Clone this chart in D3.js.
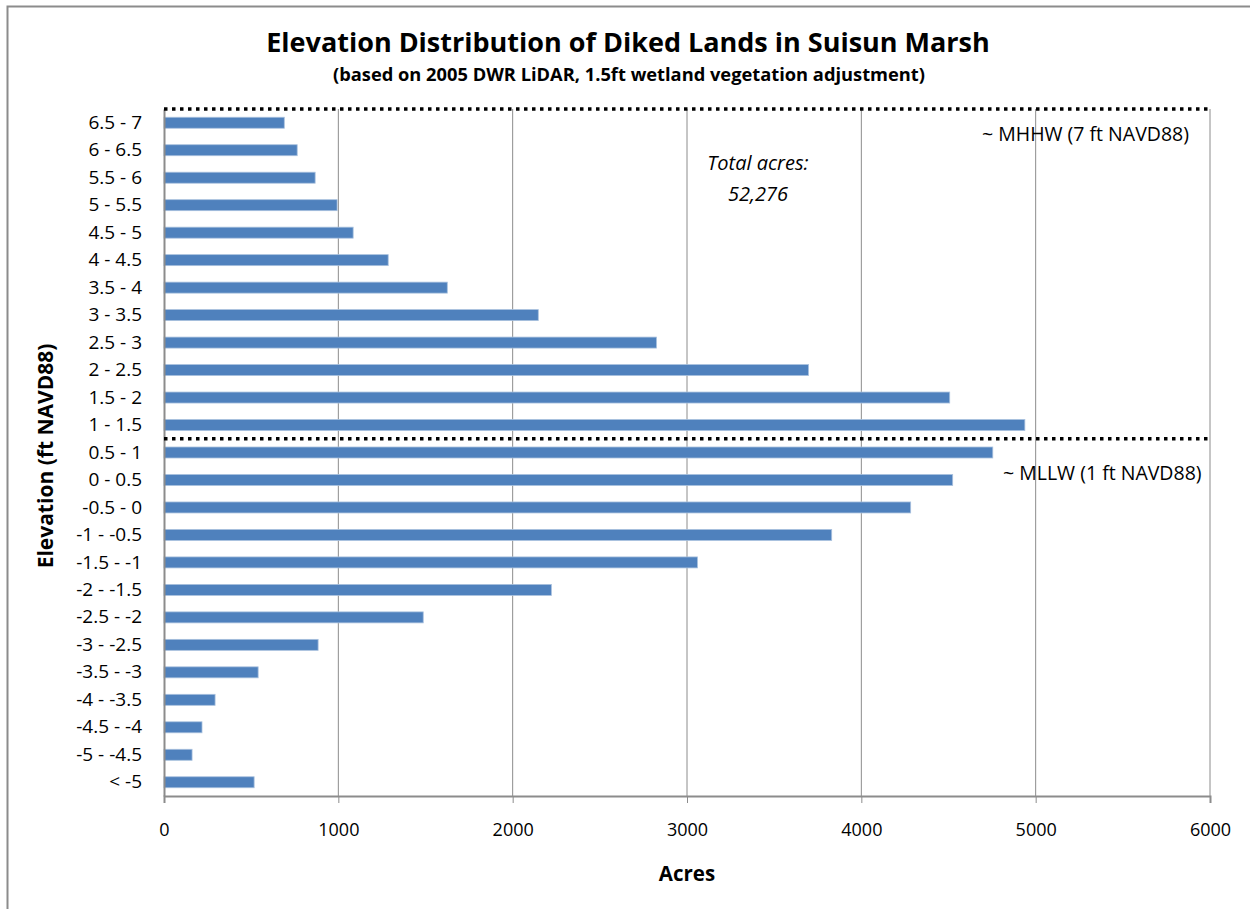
<!DOCTYPE html>
<html>
<head>
<meta charset="utf-8">
<script src="https://cdn.jsdelivr.net/npm/d3@7"></script>
<style>
  body { margin: 0; background: #fff; }
  text { font-family: "Open Sans", "Liberation Sans", sans-serif; fill: #000; }
</style>
</head>
<body>
<div id="chart"></div>
<script>
const categories = ['6.5 - 7', '6 - 6.5', '5.5 - 6', '5 - 5.5', '4.5 - 5', '4 - 4.5', '3.5 - 4', '3 - 3.5',
  '2.5 - 3', '2 - 2.5', '1.5 - 2', '1 - 1.5', '0.5 - 1', '0 - 0.5', '-0.5 - 0', '-1 - -0.5', '-1.5 - -1',
  '-2 - -1.5', '-2.5 - -2', '-3 - -2.5', '-3.5 - -3', '-4 - -3.5', '-4.5 - -4', '-5 - -4.5', '< -5'];
const acres = [690, 764, 867, 993, 1085, 1286, 1625, 2147, 2825, 3697, 4507, 4938, 4754, 4524, 4283,
  3830, 3060, 2222, 1487, 884, 540, 293, 218, 161, 517];
const xTicks = [0, 1000, 2000, 3000, 4000, 5000, 6000];
// reference lines: drawn at the top edge of the given category
const refLines = [
  { above: '6.5 - 7', label: '~ MHHW (7 ft NAVD88)' },
  { above: '0.5 - 1', label: '~ MLLW  (1 ft NAVD88)' }
];
const totalLines = ['Total acres:', '52,276'];

const width = 1250, height = 909;
const margin = { top: 109, right: 40, bottom: 113, left: 164 };

const svg = d3.select('#chart').append('svg')
    .attr('width', width)
    .attr('height', height);

// outer chart border (only top and left visible in the picture)
svg.append('rect')
    .attr('x', 7.5).attr('y', 6.5)
    .attr('width', width).attr('height', height)
    .attr('fill', 'none')
    .attr('stroke', '#8c8c8c')
    .attr('stroke-width', 2);

const x = d3.scaleLinear().domain([0, 6000]).range([margin.left, 1210]);
const y = d3.scaleBand().domain(categories).range([margin.top, height - margin.bottom]).paddingInner(0.6).paddingOuter(0.3);

// gridlines
svg.append('g')
  .selectAll('line')
  .data(xTicks.slice(1))
  .enter()
  .append('line')
    .attr('x1', d => x(d)).attr('x2', d => x(d))
    .attr('y1', margin.top).attr('y2', height - margin.bottom)
    .attr('stroke', '#8c8c8c')
    .attr('stroke-width', 1);

// bars
svg.append('g')
  .selectAll('rect')
  .data(categories)
  .enter()
  .append('rect')
    .attr('x', x(0))
    .attr('y', d => y(d))
    .attr('width', (d, i) => x(acres[i]) - x(0))
    .attr('height', y.bandwidth())
    .attr('fill', '#4f81bd')
    .attr('stroke', '#a9c1de')
    .attr('stroke-width', 0.8);

// x axis
const xAxis = svg.append('g')
    .attr('transform', `translate(0,${height - margin.bottom})`)
    .call(d3.axisBottom(x).tickValues(xTicks).tickSize(7).tickPadding(20).tickFormat(d3.format('d')));
xAxis.select('.domain').attr('stroke', '#8c8c8c').attr('stroke-width', 2);
xAxis.selectAll('.tick line').attr('stroke', '#8c8c8c');
xAxis.selectAll('.tick text').style('font-size', '18px').attr('font-family', null);

// y axis
const yAxis = svg.append('g')
    .attr('transform', `translate(${margin.left},0)`)
    .call(d3.axisLeft(y).tickSize(0).tickPadding(22));
yAxis.select('.domain').attr('stroke', '#8c8c8c').attr('stroke-width', 2);
yAxis.selectAll('.tick text').style('font-size', '19px').attr('font-family', null);

// dotted reference lines
const step = y.step();
refLines.forEach((r, i) => {
  const yy = i === 0 ? margin.top : y(r.above) - y.paddingInner() * step / 2;
  svg.append('line')
      .attr('x1', x(0)).attr('x2', x(6000))
      .attr('y1', yy).attr('y2', yy)
      .attr('stroke', '#000')
      .attr('stroke-width', 3.5)
      .attr('stroke-dasharray', '3.5,4.5');
  svg.append('text')
      .attr('x', i === 0 ? 982 : 1003)
      .attr('y', yy + (i === 0 ? 32 : 41))
      .style('font-size', '19.5px')
      .text(r.label);
});

// total annotation
svg.append('text')
    .attr('x', 758).attr('y', 170)
    .attr('text-anchor', 'middle')
    .style('font-size', '20px')
    .style('font-style', 'italic')
    .selectAll('tspan')
    .data(totalLines)
    .enter()
    .append('tspan')
      .attr('x', 758)
      .attr('dy', (d, i) => i === 0 ? 0 : 31)
      .text(d => d);

// titles
svg.append('text')
    .attr('x', 628).attr('y', 52)
    .attr('text-anchor', 'middle')
    .style('font-size', '27px')
    .style('font-weight', 'bold')
    .text('Elevation Distribution of Diked Lands in Suisun Marsh');
svg.append('text')
    .attr('x', 629).attr('y', 81)
    .attr('text-anchor', 'middle')
    .style('font-size', '18.3px')
    .style('font-weight', 'bold')
    .text('(based on 2005 DWR LiDAR, 1.5ft wetland vegetation adjustment)');

svg.append('text')
    .attr('x', 687).attr('y', 881)
    .attr('text-anchor', 'middle')
    .style('font-size', '20.5px')
    .style('font-weight', 'bold')
    .text('Acres');

svg.append('text')
    .attr('transform', `translate(53,456) rotate(-90)`)
    .attr('text-anchor', 'middle')
    .style('font-size', '21px')
    .style('font-weight', 'bold')
    .text('Elevation (ft NAVD88)');
</script>
</body>
</html>
